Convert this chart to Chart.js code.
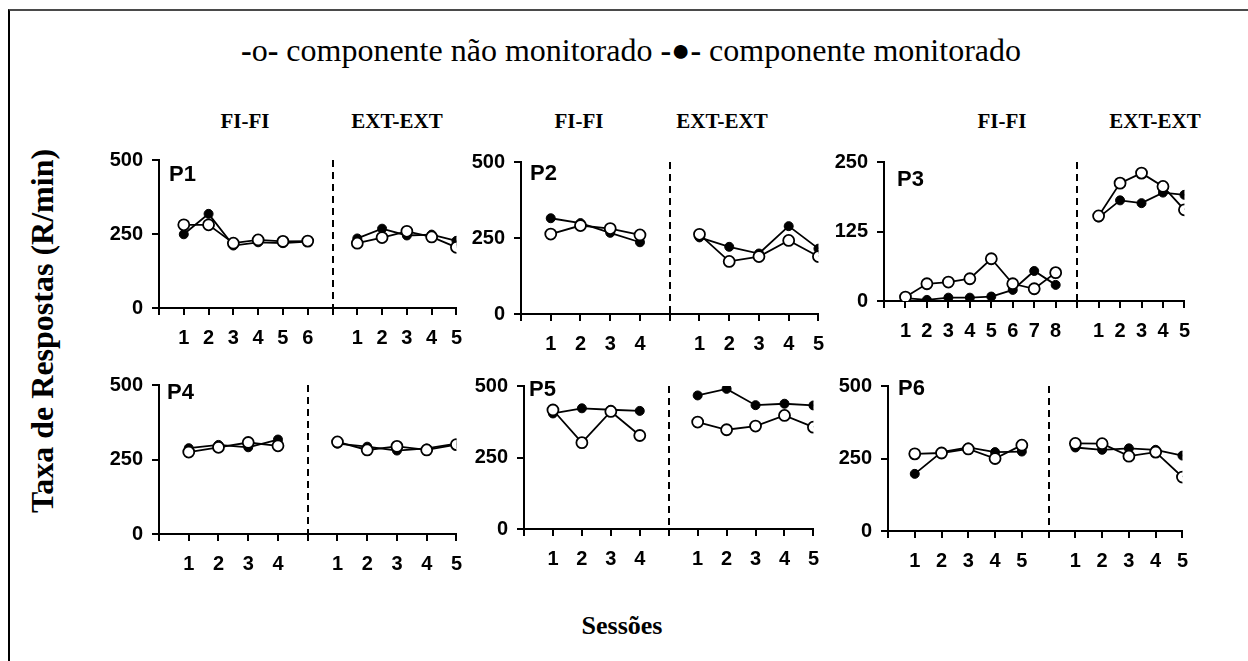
<!DOCTYPE html>
<html>
<head>
<meta charset="utf-8">
<script src="https://cdn.jsdelivr.net/npm/chart.js@4.4.1/dist/chart.umd.min.js"></script>
<style>
    html, body { margin: 0; padding: 0; background: #fff; }
    #page { position: relative; width: 1248px; height: 661px; overflow: hidden; }
    #frame { position: absolute; left: 8px; top: 9px; width: 1250px; height: 660px;
             border-top: 2px solid #4a4a4a; border-left: 2px solid #000; }
    canvas { position: absolute; }
    .txt { position: absolute; font-family: 'Liberation Serif', 'Times New Roman', serif; color: #000; white-space: nowrap; }
    #legend { left: 0; width: 1262px; top: 31px; text-align: center; font-size: 32px; line-height: 38px; }
    .phase { top: 109px; font-size: 21px; font-weight: bold; transform: translateX(-50%); }
    #ytitle { left: 42px; top: 331px; font-size: 32px; font-weight: bold; transform: translate(-50%, -50%) rotate(-90deg); }
    #xtitle { left: 622px; top: 611px; font-size: 26px; font-weight: bold; transform: translateX(-50%); }
</style>
</head>
<body>
<div id="page">
    <div id="frame"></div>
    <div id="legend" class="txt"><b>-</b>o<b>-</b> componente não monitorado <b>-●-</b> componente monitorado</div>
    <div class="txt phase" style="left:245px">FI-FI</div>
    <div class="txt phase" style="left:397px">EXT-EXT</div>
    <div class="txt phase" style="left:579px">FI-FI</div>
    <div class="txt phase" style="left:722px">EXT-EXT</div>
    <div class="txt phase" style="left:1002px">FI-FI</div>
    <div class="txt phase" style="left:1155px">EXT-EXT</div>
    <div id="ytitle" class="txt">Taxa de Respostas (R/min)</div>
    <div id="xtitle" class="txt">Sessões</div>
</div>
<script>
// session labels
const fiSessions6 = ['1', '2', '3', '4', '5', '6'];
const fiSessions8 = ['1', '2', '3', '4', '5', '6', '7', '8'];
const fiSessions5 = ['1', '2', '3', '4', '5'];
const fiSessions4 = ['1', '2', '3', '4'];
const extSessions = ['1', '2', '3', '4', '5'];

// y tick labels
const yTicks500 = [0, 250, 500];
const yTicks250 = [0, 125, 250];

// P1
const p1FiOpen = [281, 281, 219, 230, 225, 226];
const p1FiFilled = [249, 318, 211, 222, 219, 224];
const p1ExtOpen = [219, 238, 259, 240, 205];
const p1ExtFilled = [235, 268, 245, 248, 227];

// P2
const p2FiOpen = [263, 291, 281, 260];
const p2FiFilled = [315, 299, 267, 236];
const p2ExtOpen = [262, 173, 189, 242, 189];
const p2ExtFilled = [252, 221, 199, 289, 215];

// P3
const p3FiOpen = [7, 31, 34, 40, 76, 31, 22, 51];
const p3FiFilled = [5, 2, 6, 6, 8, 20, 54, 29];
const p3ExtOpen = [153, 212, 230, 206, 164];
const p3ExtFilled = [150, 181, 176, 195, 191];

// P4
const p4FiOpen = [275, 291, 307, 296];
const p4FiFilled = [288, 299, 291, 317];
const p4ExtOpen = [309, 282, 294, 282, 300];
const p4ExtFilled = [303, 293, 280, 287, 303];

// P5
const p5FiOpen = [416, 302, 411, 327];
const p5FiFilled = [404, 422, 417, 413];
const p5ExtOpen = [374, 347, 360, 397, 356];
const p5ExtFilled = [467, 490, 433, 438, 432];

// P6
const p6FiOpen = [266, 269, 283, 250, 296];
const p6FiFilled = [197, 272, 288, 272, 274];
const p6ExtOpen = [302, 301, 258, 272, 186];
const p6ExtFilled = [288, 280, 285, 280, 260];

const panels = [
    { name: 'P1', fi: fiSessions6, ext: extSessions, yTicks: yTicks500,
      fiOpen: p1FiOpen, fiFilled: p1FiFilled, extOpen: p1ExtOpen, extFilled: p1ExtFilled },
    { name: 'P2', fi: fiSessions4, ext: extSessions, yTicks: yTicks500,
      fiOpen: p2FiOpen, fiFilled: p2FiFilled, extOpen: p2ExtOpen, extFilled: p2ExtFilled },
    { name: 'P3', fi: fiSessions8, ext: extSessions, yTicks: yTicks250,
      fiOpen: p3FiOpen, fiFilled: p3FiFilled, extOpen: p3ExtOpen, extFilled: p3ExtFilled },
    { name: 'P4', fi: fiSessions4, ext: extSessions, yTicks: yTicks500,
      fiOpen: p4FiOpen, fiFilled: p4FiFilled, extOpen: p4ExtOpen, extFilled: p4ExtFilled },
    { name: 'P5', fi: fiSessions4, ext: extSessions, yTicks: yTicks500,
      fiOpen: p5FiOpen, fiFilled: p5FiFilled, extOpen: p5ExtOpen, extFilled: p5ExtFilled },
    { name: 'P6', fi: fiSessions5, ext: extSessions, yTicks: yTicks500,
      fiOpen: p6FiOpen, fiFilled: p6FiFilled, extOpen: p6ExtOpen, extFilled: p6ExtFilled },
];

// plot area of each panel on the page: left, right, top, bottom (px), label offset
const layouts = [
    { left: 159, right: 459, top: 153, bottom: 308, lx: 10, ly: 4 },
    { left: 521, right: 821, top: 155, bottom: 314, lx: 9, ly: 1 },
    { left: 884, right: 1187, top: 155, bottom: 301, lx: 13, ly: 7 },
    { left: 159, right: 459, top: 378, bottom: 534, lx: 8, ly: -3 },
    { left: 524, right: 816, top: 379, bottom: 529, lx: 5, ly: -7 },
    { left: 888, right: 1185, top: 379, bottom: 531, lx: 10, ly: -8 },
];

const Y_AXIS_W = 60;
const X_AXIS_H = 44;
const PAD_TOP = 14;
const PAD_RIGHT = 14;
const SANS = "'Liberation Sans Narrow', 'Arial Narrow', 'Liberation Sans', Arial, sans-serif";
const TICK_FONT = { family: SANS, size: 20, weight: 'bold' };

// Build points: FI sessions at 1..n, a gap at the phase change, EXT after it
function buildPoints( fiValues, extValues ) {
    const pts = fiValues.map((v, i) => ({ x: i + 1, y: v }));
    pts.push({ x: fiValues.length + 1, y: null });
    extValues.forEach((v, i) => pts.push({ x: fiValues.length + 2 + i, y: v }));
    return pts;
}

// Dashed line between phases and panel name
const phasePlugin = {
    id: 'phase',
    afterDatasetsDraw( chart, args, opts ) {
        const { ctx, chartArea, scales } = chart;
        const x = Math.round(scales.x.getPixelForValue(opts.boundary));
        ctx.save();
        ctx.strokeStyle = '#000';
        ctx.lineWidth = 2;
        ctx.setLineDash([7, 5]);
        ctx.beginPath();
        ctx.moveTo(x, chartArea.top);
        ctx.lineTo(x, chartArea.bottom);
        ctx.stroke();
        ctx.setLineDash([]);
        ctx.fillStyle = '#000';
        ctx.font = 'bold 22px ' + SANS;
        ctx.textBaseline = 'top';
        ctx.fillText(opts.name, chartArea.left + opts.lx, chartArea.top + opts.ly);
        ctx.restore();
    }
};

function makePanel( panel, lay ) {
    const nFi = panel.fi.length;
    const xMax = nFi + 1 + panel.ext.length;
    const yMax = panel.yTicks[panel.yTicks.length - 1];

    const canvas = document.createElement('canvas');
    const w = Y_AXIS_W + (lay.right - lay.left) + PAD_RIGHT;
    const h = PAD_TOP + (lay.bottom - lay.top) + X_AXIS_H;
    canvas.width = w;
    canvas.height = h;
    canvas.style.left = (lay.left - Y_AXIS_W) + 'px';
    canvas.style.top = (lay.top - PAD_TOP) + 'px';
    canvas.style.width = w + 'px';
    canvas.style.height = h + 'px';
    document.getElementById('page').appendChild(canvas);

    const xTicks = [];
    for (let i = 0; i <= xMax; i++) xTicks.push(i);

    new Chart(canvas.getContext('2d'), {
        type: 'line',
        data: {
            datasets: [
                {
                    label: 'componente não monitorado',
                    data: buildPoints(panel.fiOpen, panel.extOpen),
                    borderColor: '#000',
                    borderWidth: 1.8,
                    pointRadius: 5.5,
                    pointBorderWidth: 1.8,
                    pointBackgroundColor: '#fff',
                    pointBorderColor: '#000',
                    spanGaps: false,
                },
                {
                    label: 'componente monitorado',
                    data: buildPoints(panel.fiFilled, panel.extFilled),
                    borderColor: '#000',
                    borderWidth: 1.8,
                    pointRadius: 4.5,
                    pointBorderWidth: 1,
                    pointBackgroundColor: '#000',
                    pointBorderColor: '#000',
                    spanGaps: false,
                },
            ],
        },
        options: {
            responsive: false,
            animation: false,
            devicePixelRatio: 1,
            layout: { padding: { left: 0, top: PAD_TOP, right: PAD_RIGHT, bottom: 0 } },
            plugins: {
                legend: { display: false },
                tooltip: { enabled: false },
                phase: { boundary: nFi + 1, name: panel.name, lx: lay.lx, ly: lay.ly },
            },
            scales: {
                x: {
                    type: 'linear',
                    min: 0,
                    max: xMax,
                    afterBuildTicks: s => { s.ticks = xTicks.map(v => ({ value: v })); },
                    afterFit: s => { s.height = X_AXIS_H; },
                    ticks: {
                        autoSkip: false,
                        maxRotation: 0,
                        padding: 11,
                        color: '#000',
                        font: TICK_FONT,
                        callback: v => {
                            if (v >= 1 && v <= nFi) return panel.fi[v - 1];
                            if (v > nFi + 1) return panel.ext[v - nFi - 2];
                            return '';
                        },
                    },
                    grid: { drawOnChartArea: false, color: '#000', lineWidth: 2, tickLength: 7 },
                    border: { color: '#000', width: 2 },
                },
                y: {
                    min: 0,
                    max: yMax,
                    afterBuildTicks: s => { s.ticks = panel.yTicks.map(v => ({ value: v })); },
                    afterFit: s => { s.width = Y_AXIS_W; },
                    ticks: { padding: 9, color: '#000', font: TICK_FONT },
                    grid: { drawOnChartArea: false, color: '#000', lineWidth: 2, tickLength: 7 },
                    border: { color: '#000', width: 2 },
                },
            },
        },
        plugins: [phasePlugin],
    });
}

panels.forEach((p, i) => makePanel(p, layouts[i]));
</script>
</body>
</html>
